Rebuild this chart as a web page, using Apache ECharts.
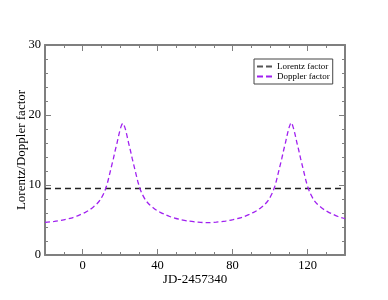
<!DOCTYPE html>
<html><head><meta charset="utf-8">
<script src="https://cdn.jsdelivr.net/npm/echarts@6/dist/echarts.min.js"></script>
<style>html,body{margin:0;padding:0;background:#fff}#c{width:388px;height:300px}</style>
</head><body><div id="c"></div>
<script>
const xTicks = [0, 40, 80, 120];
const yTicks = [0, 10, 20, 30];
const lorentzX = [-20, 140];
const lorentzY = [9.5, 9.5];
const dopplerX = [-20, -15, -10, -6, -2, 1.5, 3.5, 5.5, 7.5, 9.5, 11.5, 12.5, 13.5, 14.5, 15.5, 16.5, 17.5, 18.5, 19.5, 20.5, 21.5,
  22.5, 23.5, 24.5, 25.5, 26.5, 27.5, 28.5, 29.5, 30.5, 31.5, 33.5, 35.5, 37.5, 39.5, 41.5, 43.5, 46.5, 49.5, 52.5, 56.5, 61.5, 66.4,
  71.3, 76.3, 80.3, 83.3, 86.3, 89.3, 91.3, 93.3, 95.3, 97.3, 99.3, 101.3, 102.3, 103.3, 104.3, 105.3, 106.3, 107.3, 108.3, 109.3, 110.3, 111.3,
  112.3, 113.3, 114.3, 115.3, 116.3, 117.3, 118.3, 119.3, 120.3, 121.3, 123.3, 125.3, 127.3, 129.3, 131.3, 133.3, 136.3, 139.3, 140];
const dopplerY = [4.66, 4.8, 5.02, 5.28, 5.67, 6.1, 6.4, 6.8, 7.25, 7.9, 8.9, 9.6, 10.5, 11.6, 12.7, 13.8, 15.0, 16.1, 17.3, 18.3, 18.8,
  18.3, 17.3, 16.1, 15.0, 13.8, 12.7, 11.6, 10.5, 9.6, 8.9, 7.9, 7.25, 6.8, 6.4, 6.1, 5.85, 5.5, 5.25, 5.05, 4.85, 4.7, 4.62,
  4.7, 4.85, 5.05, 5.25, 5.5, 5.85, 6.1, 6.4, 6.8, 7.25, 7.9, 8.9, 9.6, 10.5, 11.6, 12.7, 13.8, 15.0, 16.1, 17.3, 18.3, 18.9,
  18.3, 17.3, 16.1, 15.0, 13.8, 12.7, 11.6, 10.5, 9.6, 8.9, 7.9, 7.25, 6.8, 6.4, 6.1, 5.85, 5.5, 5.25, 5.2];

const font = 'Liberation Serif';
const axisCol = '#7f7f7f';
const chart = echarts.init(document.getElementById('c'), null, {renderer: 'canvas'});

function xAx(pos, major, labels, line) {
  return {
    type: 'value', position: pos, min: -20, max: 140,
    interval: major ? undefined : 10,
    axisLine: {show: line, onZero: false, lineStyle: {color: axisCol, width: 2}},
    axisTick: major ? {show: true, inside: true, length: 6, customValues: xTicks, lineStyle: {color: axisCol, width: 1}}
                    : {show: true, inside: true, length: 3, lineStyle: {color: axisCol, width: 1}},
    axisLabel: labels ? {show: true, customValues: xTicks, fontFamily: font, fontSize: 12.5, color: '#000', margin: 4} : {show: false},
    splitLine: {show: false},
    name: labels ? 'JD-2457340' : '', nameLocation: 'middle', nameGap: 18, nameMoveOverlap: false,
    nameTextStyle: {fontFamily: font, fontSize: 13, color: '#000', verticalAlign: 'top'}
  };
}
function yAx(pos, labels) {
  return {
    type: 'value', position: pos, min: 0, max: 30, interval: 10,
    axisLine: {show: true, onZero: false, lineStyle: {color: axisCol, width: 2}},
    axisTick: {show: true, inside: true, length: 6, lineStyle: {color: axisCol, width: 1}},
    minorTick: {show: true, splitNumber: 5, length: 3, lineStyle: {color: axisCol, width: 1}},
    axisLabel: labels ? {show: true, fontFamily: font, fontSize: 12.5, color: '#000', margin: 4, customValues: yTicks} : {show: false},
    splitLine: {show: false}, minorSplitLine: {show: false},
    name: labels ? 'Lorentz/Doppler factor' : '', nameLocation: 'middle', nameGap: 17, nameMoveOverlap: false,
    nameTextStyle: {fontFamily: font, fontSize: 13, color: '#000'}
  };
}
const dashIcon = 'path://M0,0H6V2H0Z M9,0H15V2H9Z';

chart.setOption({
  animation: false,
  backgroundColor: '#fff',
  grid: {left: 45, right: 43, top: 45, bottom: 45, containLabel: false},
  xAxis: [xAx('bottom', true, true, true), xAx('bottom', false, false, false), xAx('top', true, false, true), xAx('top', false, false, false)],
  yAxis: [yAx('left', true), yAx('right', false)],
  legend: {
    show: true, left: 254, top: 59, orient: 'vertical',
    backgroundColor: '#fff', borderColor: '#444', borderWidth: 1, borderRadius: 0,
    padding: [3, 3, 3, 3], itemGap: 1, itemWidth: 15, itemHeight: 8,
    textStyle: {fontFamily: font, fontSize: 9, color: '#000', padding: [0, 0, 0, 0]},
    data: [{name: 'Lorentz factor', icon: dashIcon}, {name: 'Doppler factor', icon: dashIcon}]
  },
  series: [
    {name: 'Lorentz factor', type: 'line', xAxisIndex: 0, yAxisIndex: 0, symbol: 'none',
     data: lorentzX.map((x, i) => [x, lorentzY[i]]),
     lineStyle: {color: '#222', width: 1.5, type: [6, 4]}, itemStyle: {color: '#555'}},
    {name: 'Doppler factor', type: 'line', xAxisIndex: 0, yAxisIndex: 0, symbol: 'none', smooth: 0.3,
     data: dopplerX.map((x, i) => [x, dopplerY[i]]),
     lineStyle: {color: '#a020f0', width: 1.3, type: [5, 3]}, itemStyle: {color: '#a020f0'}}
  ]
});
</script></body></html>
